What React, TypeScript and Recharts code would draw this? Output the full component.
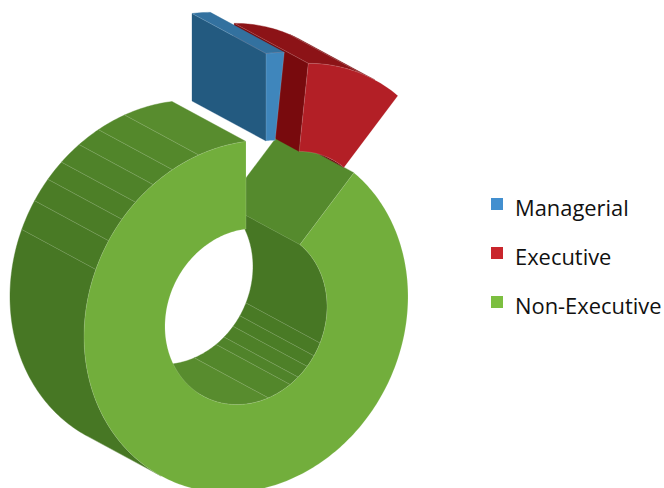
import React from 'react';
import { PieChart, Pie, Legend } from 'recharts';

const categories = ['Non-Executive', 'Executive', 'Managerial'];
const shares = [88.4, 9.8, 1.8];
const legendOrder = ['Managerial', 'Executive', 'Non-Executive'];

const legendColors: Record<string, string> = {
  Managerial: '#428fcf',
  Executive: '#c9252c',
  'Non-Executive': '#7cbf40',
};

// depth of the extrusion and the tilt of the ring
const DEPTH_X = -74;
const DEPTH_Y = -40;
const SCALE_Y = 175 / 162;
const SHEAR_Y = -20 / 162;
// angles (clockwise from 12 o'clock) where the wall turns away from the viewer
const TURN_A = 31.6;
const TURN_B = 211.6;

type Band = [number, string];
interface SliceStyle {
  shift: [number, number];
  front: string;
  cut: string;
  outer: Band[];
  inner: Band[];
}

const sliceStyles: Record<string, SliceStyle> = {
  'Non-Executive': {
    shift: [0, 0],
    front: '#72ae3c',
    cut: '#558a2d',
    outer: [
      [292, '#477724'],
      [302, '#497a25'],
      [310, '#4b7c26'],
      [317, '#4d7f27'],
      [325, '#4f8229'],
      [333, '#51852a'],
      [343, '#54882b'],
      [360, '#588c2e'],
    ],
    inner: [
      [114, '#477724'],
      [123, '#497a25'],
      [131, '#4b7d26'],
      [140, '#4e8028'],
      [147, '#50832a'],
      [164, '#53872b'],
      [212, '#588c2e'],
    ],
  },
  Executive: {
    shift: [44, -77],
    front: '#b31f26',
    cut: '#780a0d',
    outer: [
      [27, '#8c1317'],
      [32, '#7f0e12'],
    ],
    inner: [[42, '#6a0a0d']],
  },
  Managerial: {
    shift: [20, -88],
    front: '#3f86bc',
    cut: '#235a80',
    outer: [[32, '#33719f']],
    inner: [],
  },
};

const HAIRLINE = 'rgba(255,255,255,0.22)';

const project = (cx: number, cy: number, r: number, deg: number): [number, number] => {
  const t = (deg * Math.PI) / 180;
  return [
    cx + r * Math.sin(t),
    cy - r * SCALE_Y * Math.cos(t) + r * SHEAR_Y * Math.sin(t),
  ];
};

const arc = (cx: number, cy: number, r: number, from: number, to: number) => {
  const pts: [number, number][] = [];
  const n = Math.max(1, Math.ceil(Math.abs(to - from)));
  for (let i = 0; i <= n; i++) pts.push(project(cx, cy, r, from + ((to - from) * i) / n));
  return pts;
};

const toPath = (pts: [number, number][]) =>
  'M' + pts.map((p) => `${p[0].toFixed(2)},${p[1].toFixed(2)}`).join('L') + 'Z';

const Wall = ({ cx, cy, r, from, to, bands }: any) => {
  if (to <= from) return null;
  const quads: React.ReactNode[] = [];
  const lines: React.ReactNode[] = [];
  let start = from;
  bands.forEach(([end, fill]: Band, i: number) => {
    const stop = Math.min(end, to);
    if (stop <= start) return;
    const pts = [
      ...arc(cx, cy, r, start, stop),
      ...arc(cx + DEPTH_X, cy + DEPTH_Y, r, stop, start),
    ];
    quads.push(<path key={i} d={toPath(pts)} fill={fill} stroke={fill} strokeWidth={0.4} />);
    const [x, y] = project(cx, cy, r, start);
    lines.push(
      <line key={i} x1={x} y1={y} x2={x + DEPTH_X} y2={y + DEPTH_Y} stroke={HAIRLINE} strokeWidth={0.7} />
    );
    start = stop;
  });
  return (
    <g>
      {quads}
      {lines}
    </g>
  );
};

// One extruded ring segment, using the angles the Pie worked out for it
const RingSegment = (props: any) => {
  const { cx, cy, innerRadius, outerRadius, startAngle, endAngle, name } = props;
  const style = sliceStyles[name];
  const a = 90 - endAngle + 360;
  const b = 90 - startAngle + 360;
  const ox = cx + style.shift[0];
  const oy = cy + style.shift[1];

  const outerFrom = a >= TURN_A && a < TURN_B ? TURN_B : a;
  const outerTo = b > TURN_A && b <= TURN_B ? TURN_A : b;
  const innerFrom = Math.max(a, TURN_A);
  const innerTo = Math.min(b, TURN_B);

  const [ix, iy] = project(ox, oy, innerRadius, a);
  const [ux, uy] = project(ox, oy, outerRadius, a);
  const cut: [number, number][] = [
    [ux, uy],
    [ix, iy],
    [ix + DEPTH_X, iy + DEPTH_Y],
    [ux + DEPTH_X, uy + DEPTH_Y],
  ];
  const face = [...arc(ox, oy, outerRadius, a, b), ...arc(ox, oy, innerRadius, b, a)];

  return (
    <g>
      <Wall cx={ox} cy={oy} r={innerRadius} from={innerFrom} to={innerTo} bands={style.inner} />
      <path d={toPath(cut)} fill={style.cut} stroke={style.cut} strokeWidth={0.3} />
      <Wall cx={ox} cy={oy} r={outerRadius} from={outerFrom} to={outerTo} bands={style.outer} />
      <path d={toPath(face)} fill={style.front} stroke="rgba(255,255,255,0.25)" strokeWidth={0.6} />
    </g>
  );
};

const KeyList = () => (
  <div style={{ fontFamily: '"Open Sans", sans-serif', fontSize: 21.9, color: '#111' }}>
    {legendOrder.map((name) => (
      <div key={name} style={{ display: 'flex', alignItems: 'center', height: 49, whiteSpace: 'nowrap' }}>
        <span
          style={{
            width: 12,
            height: 12,
            marginRight: 12,
            marginTop: -8,
            background: legendColors[name],
            display: 'inline-block',
          }}
        />
        {name}
      </div>
    ))}
  </div>
);

export default function App() {
  const rows = categories.map((name, i) => ({ name, value: shares[i] }));
  return (
    <div style={{ position: 'absolute', left: 0, top: 0, width: 664, height: 488, overflow: 'hidden', background: '#fff' }}>
      <PieChart width={664} height={488} margin={{ top: 0, right: 0, bottom: 0, left: 0 }}>
        <Pie
          data={rows}
          dataKey="value"
          nameKey="name"
          cx={246}
          cy={316.5}
          innerRadius={81}
          outerRadius={162}
          startAngle={90}
          endAngle={450}
          stroke="none"
          shape={RingSegment}
          isAnimationActive={false}
        />
        <Legend
          content={<KeyList />}
          wrapperStyle={{ position: 'absolute', left: 491, top: 183, width: 173, bottom: 'auto', right: 'auto' }}
        />
      </PieChart>
    </div>
  );
}
